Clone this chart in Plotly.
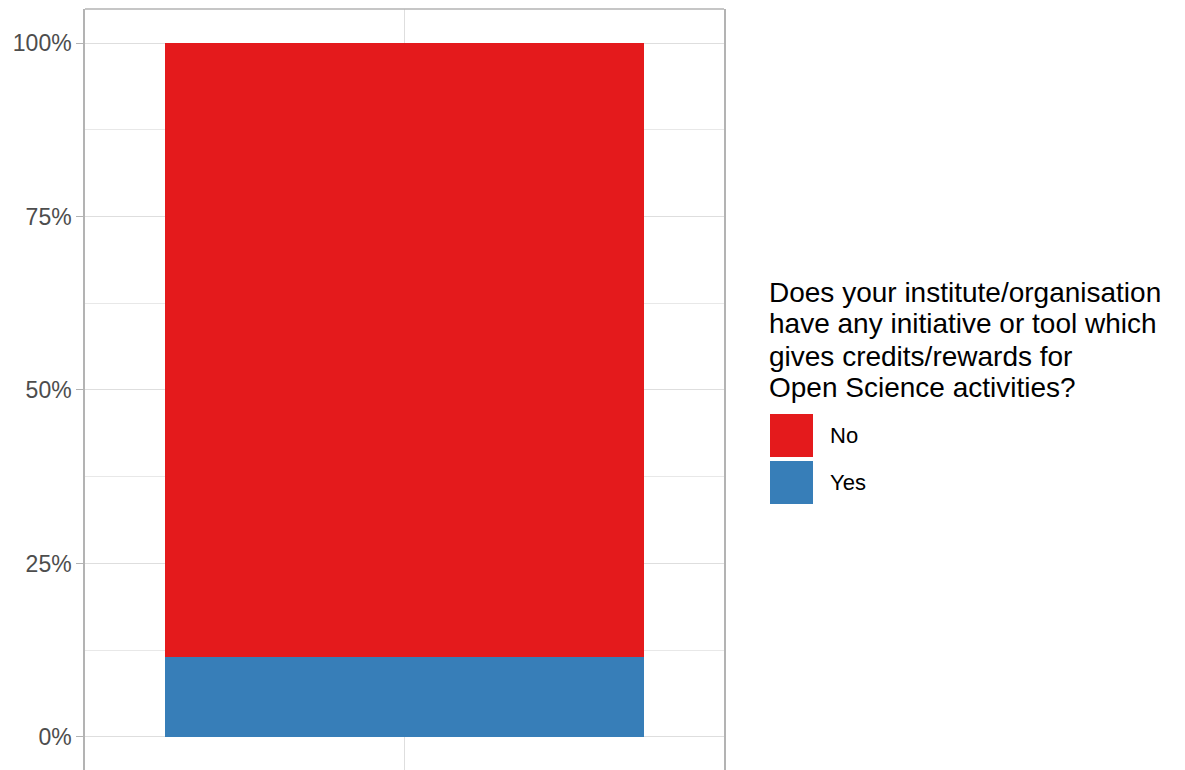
import plotly.graph_objects as go

# ---- data ----
categories = ["Yes", "No"]          # stacking order bottom -> top
shares = [0.115, 0.885]
colors = {"No": "#E41A1C", "Yes": "#377EB8"}
legend_order = ["No", "Yes"]
legend_title_lines = ["Does your institute/organisation",
                      "have any initiative or tool which",
                      "gives credits/rewards for",
                      "Open Science activities?"]
y_tickvals = [0, 0.25, 0.5, 0.75, 1.0]
y_ticktext = ["0%", "25%", "50%", "75%", "100%"]
x_group = [""]

W, H = 1185, 770
L, R, T, B = 85, 724, 9, 770
FONT = "Liberation Sans, Arial, Helvetica, sans-serif"


def px(x):
    return (x - L) / (R - L)


def py(y):
    return 1 - (y - T) / (B - T)


fig = go.Figure()
for cat, val in zip(categories, shares):
    fig.add_trace(go.Bar(x=x_group, y=[val], name=cat, marker_color=colors[cat],
                         marker_line_width=0, width=0.9, showlegend=False,
                         hoverinfo="skip"))

fig.update_layout(
    barmode="stack",
    width=W, height=H,
    margin=dict(l=L, r=W - R, t=T, b=H - B, autoexpand=False),
    plot_bgcolor="white", paper_bgcolor="white",
    font=dict(family=FONT),
    xaxis=dict(type="category", range=[-0.6, 0.6], showgrid=True, gridcolor="#DEDEDE",
               gridwidth=1, showticklabels=False, ticks="", zeroline=False,
               showline=False, fixedrange=True),
    yaxis=dict(range=[-0.0476, 1.049], tickvals=y_tickvals, ticktext=y_ticktext,
               showgrid=True, gridcolor="#DEDEDE", gridwidth=1, zeroline=False,
               minor=dict(dtick=0.125, tick0=0.125, showgrid=True, gridcolor="#E8E8E8",
                          gridwidth=1, ticks=""),
               ticks="outside", ticklen=7, tickcolor="#B3B3B3", tickwidth=1,
               tickfont=dict(size=23, color="#4D4D4D", family=FONT),
               showline=True, mirror=True, linecolor="#B3B3B3", linewidth=1.5,
               fixedrange=True),
)

# top border of panel
fig.add_shape(type="line", xref="paper", yref="paper", x0=0, x1=1, y0=1, y1=1,
              line=dict(color="#B3B3B3", width=1.5))

# custom legend: title lines
title_first_center = 292
title_spacing = 32
for i, line in enumerate(legend_title_lines):
    fig.add_annotation(xref="paper", yref="paper", x=px(767),
                       y=py(title_first_center + i * title_spacing),
                       xanchor="left", yanchor="middle", align="left", showarrow=False,
                       text=line, font=dict(size=28, color="black", family=FONT))

key_top = 414
key_h = 43
key_gap = 4
for i, cat in enumerate(legend_order):
    y0 = key_top + i * (key_h + key_gap)
    fig.add_shape(type="rect", xref="paper", yref="paper", x0=px(770), x1=px(813),
                  y0=py(y0 + key_h), y1=py(y0), fillcolor=colors[cat], line_width=0)
    fig.add_annotation(xref="paper", yref="paper", x=px(828), y=py(y0 + key_h / 2),
                       xanchor="left", yanchor="middle", showarrow=False, text=cat,
                       font=dict(size=22, color="black", family=FONT))

fig.write_html("out.html", config={"displayModeBar": False},
               post_script="document.body.style.margin='0';")
